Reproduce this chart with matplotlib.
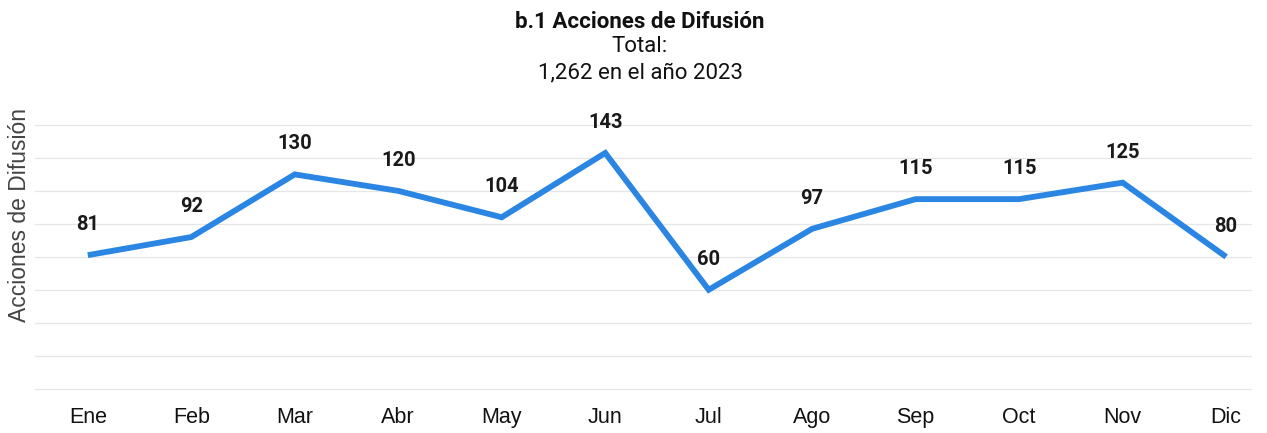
import matplotlib
matplotlib.use("Agg")
import matplotlib.pyplot as plt

months = ["Ene", "Feb", "Mar", "Abr", "May", "Jun", "Jul", "Ago", "Sep", "Oct", "Nov", "Dic"]
values = [81, 92, 130, 120, 104, 143, 60, 97, 115, 115, 125, 80]
title = "b.1 Acciones de Difusión"
subtitle1 = "Total:"
subtitle2 = "1,262 en el año 2023"
ylabel = "Acciones de Difusión"

W, H = 1267, 433
fig = plt.figure(figsize=(W / 100, H / 100), dpi=100)
ax = fig.add_axes([35 / W, 1 - 392 / H, (1252 - 35) / W, (392 - 120) / H])

x = list(range(len(months)))
ax.plot(x, values, color="#2A86E2", lw=4.2, solid_joinstyle="miter", solid_capstyle="butt")
for xi, v in zip(x, values):
    ax.annotate(str(v), (xi, v), xytext=(0, 22), textcoords="offset points",
                ha="center", va="center", fontsize=14.5, fontweight="bold",
                family="Roboto", color="#1a1a1a")

ax.set_xlim(-0.51, 11.25)
ax.set_ylim(-2, 163)
ax.set_yticks(range(0, 161, 20))
ax.set_yticklabels([])
ax.tick_params(axis="y", length=0)
ax.set_xticks(x)
ax.set_xticklabels(months, fontsize=15.5, family="Liberation Sans", color="#111111")
ax.tick_params(axis="x", length=0, pad=11)
ax.grid(axis="y", color="#e6e6e6", lw=0.9)
ax.set_axisbelow(True)
for s in ax.spines.values():
    s.set_visible(False)

fig.text(640 / W, 1 - 22 / H, title, ha="center", va="center", fontsize=16,
         fontweight="bold", family="Roboto", color="#111111")
fig.text(640 / W, 1 - 47 / H, subtitle1, ha="center", va="center", fontsize=16,
         family="Roboto", color="#111111")
fig.text(640 / W, 1 - 73 / H, subtitle2, ha="center", va="center", fontsize=16,
         family="Roboto", color="#111111")
fig.text(20 / W, 1 - 215 / H, ylabel, ha="center", va="center", rotation=90,
         fontsize=16.5, family="Liberation Sans", color="#444444")

fig.savefig("out.png", dpi=100, facecolor="white")
